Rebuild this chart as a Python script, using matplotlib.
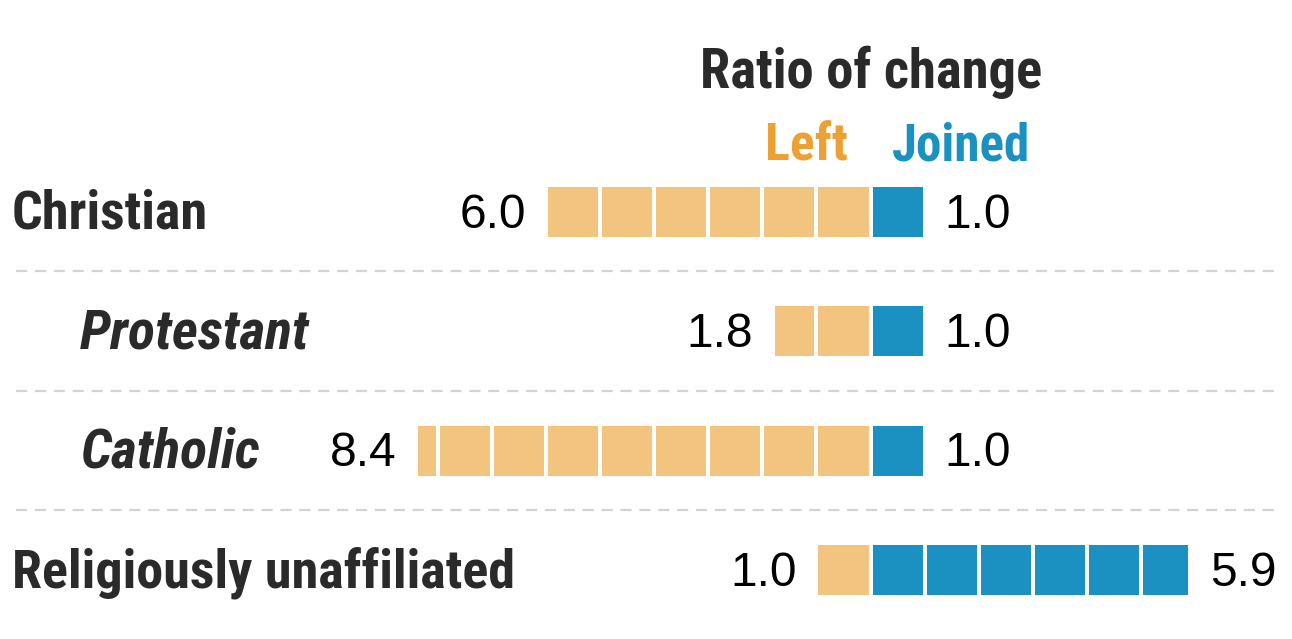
import matplotlib
matplotlib.use("Agg")
import matplotlib.pyplot as plt
from matplotlib.patches import Rectangle
from matplotlib import font_manager
import math

categories = ["Christian", "Protestant", "Catholic", "Religiously unaffiliated"]
italic_rows = [False, True, True, False]
indent_rows = [False, True, True, False]
left_values = [6.0, 1.8, 8.4, 1.0]
joined_values = [1.0, 1.0, 1.0, 5.9]

title = "Ratio of change"
legend_left = "Left"
legend_joined = "Joined"

ORANGE_SQ = "#F3C47F"
BLUE_SQ = "#1A91C1"
ORANGE_TXT = "#EBA133"
BLUE_TXT = "#1A91C1"
DARK = "#2A2A2A"

fam, stretch = "Roboto", "normal"
names = [(f.name, str(f.stretch)) for f in font_manager.fontManager.ttflist]
for cand in ["Roboto Condensed", "Liberation Sans Narrow", "Open Sans Condensed"]:
    if any(n == cand for n, _ in names):
        fam, stretch = cand, "normal"
        break
else:
    if any(n == "DejaVu Sans" and s in ("condensed", "semi-condensed") for n, s in names):
        fam, stretch = "DejaVu Sans", "condensed"
HEAD = dict(family=[fam, "DejaVu Sans"], fontweight="bold", fontstretch=stretch)

W, H = 1292, 639
fig = plt.figure(figsize=(W / 100, H / 100), dpi=100)
ax = fig.add_axes([0, 0, 1, 1])

PX_UNIT = 54.1
PX_ROW = 119.5
CENTER_PX = 870.5
ROW0_PX = 211.5
ax.set_xlim(-CENTER_PX / PX_UNIT, (W - CENTER_PX) / PX_UNIT)
ax.set_ylim((H - ROW0_PX) / PX_ROW, -ROW0_PX / PX_ROW)
ax.axis("off")
renderer = fig.canvas.get_renderer()

def fit_size(txt, target_px, **kw):
    probe = ax.text(0, 0, txt, fontsize=35, **kw)
    w = probe.get_window_extent(renderer).width
    probe.remove()
    return 35 * target_px / w

gap = 4.0 / PX_UNIT
sq_h = 50.0 / PX_ROW
lab_dy = -3 / PX_ROW

def units(v):
    n = math.floor(v + 1e-9)
    parts = [1.0] * n
    frac = round(v - n, 3)
    if frac > 0:
        parts.append(frac)
    return parts

size_upright = fit_size(categories[0], 196, **HEAD)
size_italic = fit_size(categories[1], 230, fontstyle="italic", **HEAD)

for i, (lv, jv) in enumerate(zip(left_values, joined_values)):
    y0 = i - sq_h / 2
    pos = 0.0
    for p in units(lv):
        ax.add_patch(Rectangle((-(pos + p) + gap / 2, y0), p - gap, sq_h,
                               facecolor=ORANGE_SQ, edgecolor="none"))
        pos += p
    pos = 0.0
    for p in units(jv):
        ax.add_patch(Rectangle((pos + gap / 2, y0), p - gap, sq_h,
                               facecolor=BLUE_SQ, edgecolor="none"))
        pos += p
    ax.text(-lv - 20 / PX_UNIT, i + lab_dy / 2, f"{lv:.1f}", ha="right", va="center_baseline",
            fontsize=34.5, family=["Liberation Sans", "DejaVu Sans"], color="black")
    ax.text(jv + 20 / PX_UNIT, i + lab_dy / 2, f"{jv:.1f}", ha="left", va="center_baseline",
            fontsize=34.5, family=["Liberation Sans", "DejaVu Sans"], color="black")
    xlab = (80 if indent_rows[i] else 12) / W
    ax.text(xlab, i + lab_dy, categories[i], transform=ax.get_yaxis_transform(),
            ha="left", va="center_baseline",
            fontsize=size_italic if italic_rows[i] else size_upright,
            fontstyle="italic" if italic_rows[i] else "normal",
            color=DARK, **HEAD)

for k in range(len(categories) - 1):
    ax.plot([16 / PX_UNIT - CENTER_PX / PX_UNIT, (1278 - CENTER_PX) / PX_UNIT],
            [k + 0.5, k + 0.5], color="#D3D3D3", lw=1.6,
            dashes=(5, 3.5), solid_capstyle="butt")

ax.text((871 - CENTER_PX) / PX_UNIT, (67 - ROW0_PX) / PX_ROW, title,
        ha="center", va="center_baseline", fontsize=fit_size(title, 342, **HEAD),
        color=DARK, **HEAD)
ax.text((848 - CENTER_PX) / PX_UNIT, (141 - ROW0_PX) / PX_ROW, legend_left,
        ha="right", va="center_baseline", fontsize=fit_size(legend_left, 83, **HEAD),
        color=ORANGE_TXT, **HEAD)
ax.text((892 - CENTER_PX) / PX_UNIT, (141 - ROW0_PX) / PX_ROW, legend_joined,
        ha="left", va="center_baseline", fontsize=fit_size(legend_joined, 138, **HEAD),
        color=BLUE_TXT, **HEAD)

fig.savefig("out.png", dpi=100, facecolor="white")
